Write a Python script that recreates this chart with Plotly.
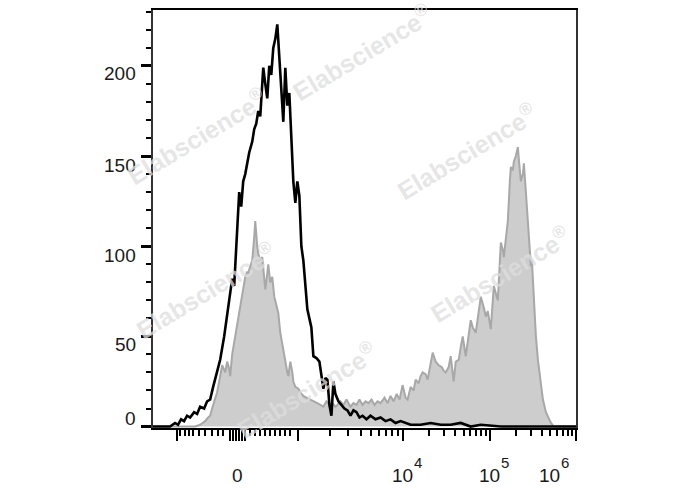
import math
import plotly.graph_objects as go

# ---- data (x in display channel units of the biexponential axis, y = cell count) ----
black_x = [0, 17, 22, 25, 28, 31, 34, 37, 41, 44,
           47, 51, 54, 57, 60, 64, 67, 71, 74, 77,
           79, 81, 84, 86, 88, 90, 92, 94, 96, 99,
           101, 103, 105, 107, 110, 112, 114, 116, 118, 120,
           122, 124, 126, 128, 130, 132, 134, 136, 138, 140,
           142, 144, 146, 148, 150, 152, 154, 156, 158, 160,
           163, 166, 168, 170, 172, 174, 176, 178, 180, 182,
           185, 188, 191, 194, 197, 200, 203, 206, 209, 213,
           217, 222, 227, 232, 237, 242, 247, 257, 267, 277,
           287, 297, 307, 317, 327, 347, 387, 422]
black_y = [0, 0, 2, 1, 4, 3, 6, 5, 8, 7,
           11, 10, 14, 15, 22, 30, 37, 50, 63, 76,
           82, 78, 108, 130, 122, 136, 140, 147, 152, 158,
           165, 168, 175, 172, 199, 190, 182, 200, 195, 210,
           215, 223, 205, 182, 169, 199, 178, 185, 160, 136,
           124, 136, 128, 100, 92, 78, 65, 60, 55, 39,
           38, 36, 28, 21, 27, 26, 12, 6, 25, 18,
           14, 12, 10, 9, 6, 9, 8, 5, 6, 4,
           6, 4, 5, 3, 4, 2, 3, 1, 1, 2,
           1, 1, 2, 0, 1, 0, 0, 0]

gray_x = [0, 42, 47, 52, 55, 57, 60, 64, 67, 69,
          72, 74, 76, 77, 79, 82, 85, 87, 89, 91,
          92, 94, 95, 97, 99, 101, 102, 104, 105, 107,
          109, 110, 112, 114, 115, 117, 119, 121, 122, 124,
          125, 127, 129, 131, 132, 134, 135, 137, 139, 140,
          142, 145, 147, 150, 153, 157, 160, 164, 167, 170,
          173, 176, 179, 182, 184, 187, 190, 193, 197, 200,
          203, 206, 209, 212, 215, 218, 221, 224, 227, 231,
          234, 237, 240, 243, 246, 249, 252, 254, 257, 260,
          262, 265, 267, 269, 272, 274, 277, 279, 282, 285,
          288, 290, 292, 295, 297, 300, 302, 305, 307, 309,
          312, 314, 317, 319, 322, 324, 327, 330, 332, 334,
          337, 340, 342, 344, 347, 349, 350, 352, 354, 356,
          357, 359, 360, 362, 364, 365, 367, 369, 370, 372,
          374, 376, 377, 378, 380, 382, 384, 386, 387, 389,
          392, 395, 397, 400, 422]
gray_y = [0, 0, 1, 3, 5, 6, 12, 19, 28, 34,
          30, 36, 32, 28, 40, 50, 61, 66, 72, 80,
          83, 86, 85, 89, 92, 105, 114, 100, 96, 92,
          94, 88, 76, 85, 90, 80, 83, 72, 70, 66,
          63, 52, 45, 40, 36, 30, 28, 36, 30, 25,
          22, 21, 19, 17, 16, 15, 14, 13, 12, 11,
          14, 12, 13, 11, 12, 14, 12, 15, 11, 13,
          12, 15, 12, 14, 13, 15, 12, 14, 13, 16,
          13, 17, 14, 18, 15, 23, 16, 15, 22, 20,
          26, 24, 28, 30, 29, 26, 35, 41, 36, 34,
          33, 31, 30, 33, 39, 25, 36, 37, 44, 50,
          39, 48, 59, 55, 52, 60, 72, 66, 61, 64,
          54, 78, 74, 70, 102, 98, 94, 105, 114, 136,
          144, 142, 147, 150, 155, 148, 136, 140, 146, 130,
          114, 100, 89, 92, 67, 50, 37, 28, 21, 15,
          8, 4, 2, 0, 0]

# ---- axis ticks (display channel units) ----
x_range = [0, 422]
x_major_ticks = [23.7, 77, 80, 83, 86, 89, 92, 145, 249, 336, 422]
x_linear_minor = [27, 32, 36, 40, 46, 52, 59, 65, 70, 97, 102, 107, 112, 117, 122, 127, 132, 137]
decade_anchors = [145, 249, 336, 422]          # 10^3, 10^4, 10^5, 10^6
x_labels = ["0", "10", "10", "10"]
x_label_exp = ["", "4", "5", "6"]
x_label_pos = [84, 240, 327, 387]

y_range = [-0.8, 231]
y_label_vals = [0, 50, 100, 150, 200]
y_label_shift = [8, -8, -9, -9, -8]

x_minor = list(x_linear_minor)
for a, b in zip(decade_anchors[:-1], decade_anchors[1:]):
    for k in range(2, 10):
        x_minor.append(a + (b - a) * math.log10(k))

fig = go.Figure()
fig.add_trace(go.Scatter(
    x=gray_x, y=gray_y, mode="lines", fill="tozeroy",
    fillcolor="rgb(205,205,205)", line=dict(color="rgb(168,168,168)", width=2),
    showlegend=False, hoverinfo="skip"))
fig.add_trace(go.Scatter(
    x=black_x, y=black_y, mode="lines",
    line=dict(color="black", width=2.6), showlegend=False, hoverinfo="skip"))

font_family = "Liberation Sans, Arial, sans-serif"

fig.update_xaxes(
    range=x_range, showgrid=False, zeroline=False,
    showline=True, linecolor="black", linewidth=1.5, mirror=True,
    tickmode="array", tickvals=x_major_ticks, showticklabels=False,
    ticks="outside", ticklen=11, tickwidth=2, tickcolor="black",
    minor=dict(tickmode="array", tickvals=x_minor, ticks="outside",
               ticklen=6, tickwidth=1.5, tickcolor="black", showgrid=False))
fig.update_yaxes(
    range=y_range, showgrid=False, zeroline=False,
    showline=True, linecolor="#333", linewidth=1.5, mirror=True,
    tickmode="linear", tick0=0, dtick=50, showticklabels=False,
    ticks="outside", ticklen=10, tickwidth=2.5, tickcolor="black",
    minor=dict(dtick=10, ticks="outside", ticklen=5, tickwidth=1.5,
               tickcolor="black", showgrid=False))

annotations = []
lab_font = dict(family=font_family, size=19, color="#1a1a1a")
for txt, ex, xv in zip(x_labels, x_label_exp, x_label_pos):
    annotations.append(dict(
        x=xv, y=-0.114, xref="x", yref="paper", text=txt, showarrow=False,
        xanchor="center" if ex == "" else "left", yanchor="middle",
        xshift=0 if ex == "" else -4, font=lab_font))
    if ex:
        annotations.append(dict(
            x=xv, y=-0.114, xref="x", yref="paper", text=ex, showarrow=False,
            xanchor="left", yanchor="middle", xshift=18, yshift=13,
            font=dict(family=font_family, size=15, color="#1a1a1a")))
for yv, ys in zip(y_label_vals, y_label_shift):
    annotations.append(dict(
        x=0, y=yv, xref="paper", yref="y", text=str(yv), showarrow=False,
        xanchor="right", yanchor="middle", xshift=-15, yshift=ys,
        font=lab_font))

# watermarks (centres in paper fractions of the plot area)
wm_x = [0.495, 0.104, 0.742, 0.820, 0.126, 0.363]
wm_y = [0.900, 0.698, 0.662, 0.369, 0.329, 0.090]
for wx, wy in zip(wm_x, wm_y):
    annotations.append(dict(
        x=wx, y=wy, xref="paper", yref="paper", showarrow=False,
        text="Elabscience<sup>®</sup>", textangle=-31,
        xanchor="center", yanchor="middle",
        font=dict(family=font_family, size=25, color="rgba(222,222,222,0.77)",
                  weight="bold")))

fig.update_layout(
    width=688, height=490,
    margin=dict(l=153, r=112, t=8, b=62),
    paper_bgcolor="white", plot_bgcolor="white",
    annotations=annotations,
    font=dict(family=font_family))

fig.write_html("out.html", config={"displayModeBar": False},
               post_script="document.body.style.margin='0px';")
